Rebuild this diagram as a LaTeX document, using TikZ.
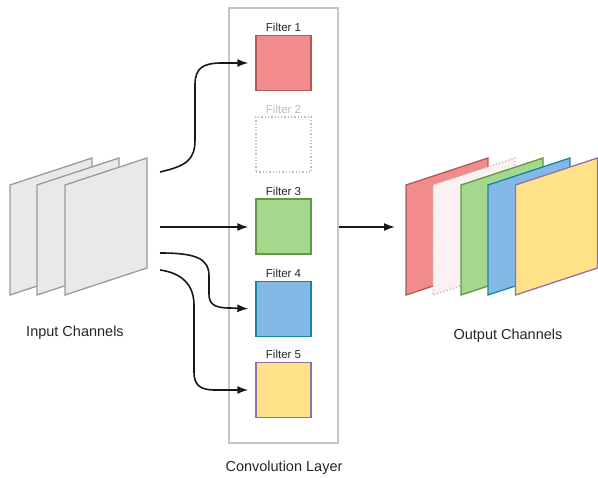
\documentclass[tikz,border=0pt]{standalone}
\usepackage{fontspec}
\setmainfont{Liberation Sans}
\usetikzlibrary{arrows.meta,positioning}
\definecolor{redfill}{HTML}{F28B8B}
\definecolor{redline}{HTML}{B05A57}
\definecolor{greenfill}{HTML}{A5D88E}
\definecolor{greenline}{HTML}{5E9A40}
\definecolor{bluefill}{HTML}{84B8E6}
\definecolor{blueline}{HTML}{16879A}
\definecolor{yellowfill}{HTML}{FFE287}
\definecolor{yellowline}{HTML}{8E72A8}
\definecolor{sheetfill}{HTML}{E9E9EB}
\definecolor{sheetline}{HTML}{9A9A9A}
\definecolor{ghost}{HTML}{BDBDBD}
\definecolor{pinkfill}{HTML}{FCF0F1}
\definecolor{frame}{HTML}{C6C6C6}
\newcommand{\sheet}[3]{\draw[#1,line width=1.3pt] (#2,#3) -- ++(82,-27) -- ++(0,110) -- ++(-82,27) -- cycle;}

\begin{document}
\begin{tikzpicture}[x=1pt,y=-1pt,every node/.style={font=\fontsize{14.5}{16}\selectfont,text=black!85},filt/.style={draw,line width=1.3pt,minimum size=55pt,inner sep=0pt},flabel/.style={font=\fontsize{11.5}{12}\selectfont,above=2pt,inner sep=1pt},arr/.style={-{Latex[length=11pt,width=8pt]},line width=1.6pt,black!90,shorten >=7pt}]
\useasboundingbox (0,0) rectangle (598,478);
% convolution layer frame
\node[draw=frame,line width=1.4pt,minimum width=109pt,minimum height=435pt,inner sep=0pt] (layer) at (283.5,225.5) {};
\node[filt,draw=redline,fill=redfill] (f1) at (283.5,63) {};
\node[filt,draw=ghost,fill=white,dotted] (f2) at (283.5,144.5) {};
\node[filt,draw=greenline,fill=greenfill] (f3) at (283.5,226.5) {};
\node[filt,draw=blueline,fill=bluefill] (f4) at (283.5,309) {};
\node[filt,draw=yellowline,fill=yellowfill] (f5) at (283.5,390) {};
\node[flabel] at (f1.north) {Filter 1};
\node[flabel,text=ghost] at (f2.north) {Filter 2};
\node[flabel] at (f3.north) {Filter 3};
\node[flabel] at (f4.north) {Filter 4};
\node[flabel] at (f5.north) {Filter 5};
% input channels
\foreach \x in {10,37,65} {\sheet{draw=sheetline,fill=sheetfill}{\x}{185}}
\node (inlabel) at (75,333) {Input Channels};
% output channels
\sheet{draw=redline,fill=redfill}{406}{185}
\sheet{draw=ghost,fill=pinkfill,dotted}{433}{185}
\sheet{draw=greenline,fill=greenfill}{461}{185}
\sheet{draw=blueline,fill=bluefill}{488}{185}
\sheet{draw=yellowline,fill=yellowfill}{515.5}{185}
\node (outlabel) at (508,336) {Output Channels};
\node (layerlabel) at (284,468) {Convolution Layer};
% connectors
\coordinate (in1) at (160,172);
\coordinate (in3) at (160,227);
\coordinate (in4) at (160,253);
\coordinate (in5) at (160,270);
\coordinate (out) at (395,227);
\draw[arr] (in1) .. controls (186,166) and (195,160) .. (195,140) -- (195,85) .. controls (195,68) and (203,63) .. (222,63) -- (f1.west);
\draw[arr] (in3) -- (in3 -| f3.west);
\draw[arr] (in4) .. controls (195,253) and (209,258) .. (209,276) -- (209,294) .. controls (209,304) and (214,308) .. (230,308) -- (f4.west);
\draw[arr] (in5) .. controls (182,273) and (194,285) .. (194,305) -- (194,372) .. controls (194,385) and (200,390) .. (215,390) -- (f5.west);
\draw[arr,shorten >=0pt] (out -| layer.east) -- (out);
\end{tikzpicture}
\end{document}
